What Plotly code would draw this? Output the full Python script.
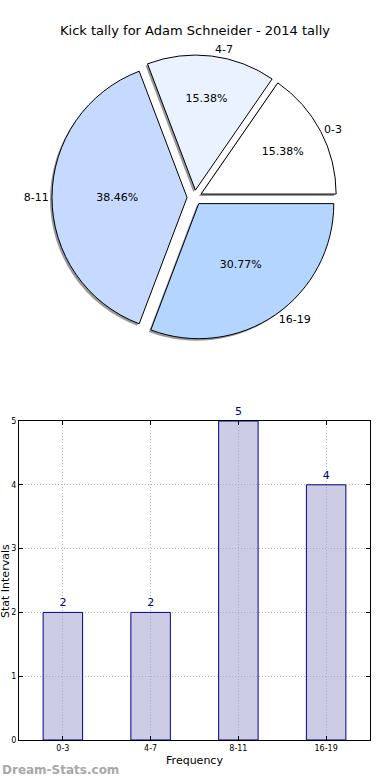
import plotly.graph_objects as go

categories = ["0-3", "4-7", "8-11", "16-19"]
counts = [2, 2, 5, 4]
pie_colors = ["#ffffff", "#eaf1ff", "#c6d9ff", "#b4d5ff"]
y_ticks = [0, 1, 2, 3, 4, 5]

FONT = "DejaVu Sans"
W, H = 390, 780

def px_x(v):
    return v / W

def px_y(v):
    return 1 - v / H

# first wedge starts at 3 o'clock and runs counterclockwise (matplotlib default)
first_share = 360.0 * counts[0] / sum(counts)
pie_rotation = 90 - first_share

pie_dom_x = [px_x(52), px_x(337)]
pie_dom_y = [px_y(340), px_y(55)]
shadow_dom_x = [px_x(50), px_x(335)]
shadow_dom_y = [px_y(342), px_y(57)]
pulls = [0.055] * len(categories)

fig = go.Figure()

# shadow
fig.add_trace(go.Pie(
    labels=categories, values=counts, sort=False, direction="counterclockwise",
    rotation=pie_rotation, pull=pulls, domain=dict(x=shadow_dom_x, y=shadow_dom_y),
    marker=dict(colors=["rgba(0,0,0,0.4)"] * 4, line=dict(width=0)),
    textinfo="none", hoverinfo="skip", showlegend=False,
))
# main pie
fig.add_trace(go.Pie(
    labels=categories, values=counts, sort=False, direction="counterclockwise",
    rotation=pie_rotation, pull=pulls, domain=dict(x=pie_dom_x, y=pie_dom_y),
    marker=dict(colors=pie_colors, line=dict(color="#000000", width=1)),
    texttemplate="%{percent:.2%}", textposition="inside", insidetextorientation="horizontal",
    textfont=dict(family=FONT, size=11, color="#000000"),
    showlegend=False,
))
# outside labels
fig.add_trace(go.Pie(
    labels=categories, values=counts, sort=False, direction="counterclockwise",
    rotation=pie_rotation, pull=pulls, domain=dict(x=pie_dom_x, y=pie_dom_y),
    marker=dict(colors=["rgba(0,0,0,0)"] * 4, line=dict(width=0)),
    texttemplate="%{label}", textposition="outside",
    textfont=dict(family=FONT, size=11, color="#000000"),
    hoverinfo="skip", showlegend=False, automargin=False,
))

# bar chart (semi-transparent fill so the dotted grid shows through, as in the original)
fig.add_trace(go.Bar(
    x=categories, y=counts, width=0.45,
    marker=dict(color="rgba(153,153,204,0.5)", line=dict(color="#00008b", width=1)),
    text=[str(c) for c in counts], textposition="outside", cliponaxis=False,
    textfont=dict(family=FONT, size=11, color="#00008b"),
    showlegend=False, xaxis="x", yaxis="y",
))

axis_common = dict(
    showline=True, linecolor="#000000", linewidth=1, mirror="ticks",
    ticks="inside", ticklen=4, tickcolor="#000000",
    showgrid=True, gridcolor="#b8b8b8", griddash="1px,2px", gridwidth=1,
    tickfont=dict(family=FONT, size=8, color="#000000"),
    zeroline=False, automargin=False,
)

fig.update_layout(
    width=W, height=H,
    margin=dict(l=0, r=0, t=0, b=0),
    paper_bgcolor="#ffffff", plot_bgcolor="#ffffff",
    font=dict(family=FONT, color="#000000"),
    title=dict(text="Kick tally for Adam Schneider - 2014 tally", x=0.5, xanchor="center",
               y=px_y(30), yanchor="middle", font=dict(family=FONT, size=13, color="#000000")),
    xaxis=dict(domain=[px_x(19), px_x(370)], type="category", range=[-0.5, 3.5],
               title=dict(text="Frequency", font=dict(family=FONT, size=11), standoff=4),
               anchor="y", **axis_common),
    yaxis=dict(domain=[px_y(740), px_y(421)], range=[0, 5], tickvals=y_ticks,
               anchor="x", **axis_common),
    annotations=[
        dict(text="Stat Intervals", textangle=-90, x=px_x(5), y=px_y(581), xref="paper", yref="paper",
             showarrow=False, font=dict(family=FONT, size=11, color="#000000"),
             xanchor="center", yanchor="middle"),
        dict(text="<b>Dream-Stats.com</b>", x=0, y=px_y(770), xref="paper", yref="paper",
             showarrow=False, font=dict(family=FONT, size=12, color="#a8a8a8"),
             xanchor="left", yanchor="middle"),
    ],
)

fig.write_html("out.html", config={"displayModeBar": False},
               post_script="document.body.style.margin='0';")
